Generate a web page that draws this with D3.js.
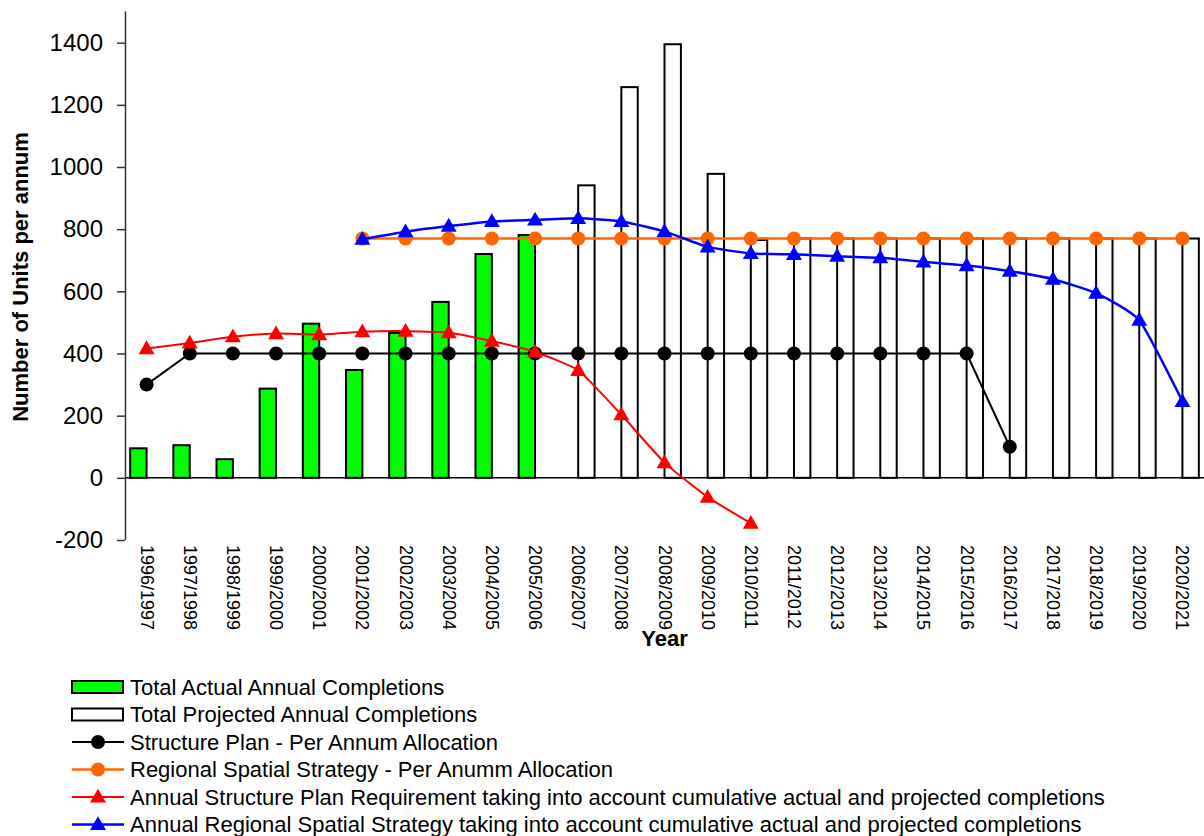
<!DOCTYPE html>
<html>
<head>
<meta charset="utf-8">
<script src="https://cdn.jsdelivr.net/npm/d3@7"></script>
<style>
  body { margin: 0; background: #fff; }
  svg { display: block; font-family: "Liberation Sans", Arial, sans-serif; }
</style>
</head>
<body>
<div id="canvas"></div>
<script>
// categories and series
let categories = [
    '1996/1997', '1997/1998', '1998/1999', '1999/2000', '2000/2001',
    '2001/2002', '2002/2003', '2003/2004', '2004/2005', '2005/2006',
    '2006/2007', '2007/2008', '2008/2009', '2009/2010', '2010/2011',
    '2011/2012', '2012/2013', '2013/2014', '2014/2015', '2015/2016',
    '2016/2017', '2017/2018', '2018/2019', '2019/2020', '2020/2021'
]
let actualCompletions = [95, 105, 60, 287, 496, 347, 466, 566, 720, 781,
    null, null, null, null, null, null, null, null, null, null, null, null, null, null, null]
let projectedCompletions = [null, null, null, null, null, null, null, null, null, null,
    941, 1257, 1395, 978, 765, 770, 770, 770, 770, 770, 770, 770, 770, 770, 770]
let structurePlan = [300, 400, 400, 400, 400, 400, 400, 400, 400, 400,
    400, 400, 400, 400, 400, 400, 400, 400, 400, 400, 100, null, null, null, null]
let rssAllocation = [null, null, null, null, null, 770, 770, 770, 770, 770,
    770, 770, 770, 770, 770, 770, 770, 770, 770, 770, 770, 770, 770, 770, 770]
let spRequirement = [416, 434, 454, 464, 461, 470, 472, 467, 440, 405,
    346, 203, 49, -62, -146, null, null, null, null, null, null, null, null, null, null]
let rssRequirement = [null, null, null, null, null, 768, 792, 810, 825, 830,
    835, 825, 793, 743, 722, 719, 713, 708, 695, 683, 665, 639, 594, 507, 246]
let yTicks = [-200, 0, 200, 400, 600, 800, 1000, 1200, 1400]

let legendLabels = [
    'Total Actual Annual Completions',
    'Total Projected Annual Completions',
    'Structure Plan - Per Annum Allocation',
    'Regional Spatial Strategy - Per Anumm Allocation',
    'Annual Structure Plan Requirement taking into account cumulative actual and projected completions',
    'Annual Regional Spatial Strategy taking into account cumulative actual and projected completions'
]

let width = 1204
let height = 836
let plotLeft = 125
let plotRight = 1204
let plotTop = 11.6
let plotBottom = 540

let svg = d3.select('#canvas').append('svg')
    .attr('width', width)
    .attr('height', height)

let x = d3.scaleBand().domain(categories).range([plotLeft, plotRight])
let y = d3.scaleLinear().domain([-200, 1500]).range([plotBottom, plotTop])
let bw = x.bandwidth()
let cx = (c) => x(c) + bw / 2
let barW = bw * 0.38

// bars
svg.append('g')
    .selectAll('rect')
    .data(categories.filter((c, i) => actualCompletions[i] != null))
    .enter()
    .append('rect')
    .attr('x', (c) => cx(c) - barW)
    .attr('width', barW)
    .attr('y', (c) => y(actualCompletions[categories.indexOf(c)]))
    .attr('height', (c) => y(0) - y(actualCompletions[categories.indexOf(c)]))
    .attr('fill', '#00ff00')
    .attr('stroke', '#000')
    .attr('stroke-width', 2)

svg.append('g')
    .selectAll('rect')
    .data(categories.filter((c, i) => projectedCompletions[i] != null))
    .enter()
    .append('rect')
    .attr('x', (c) => cx(c))
    .attr('width', barW)
    .attr('y', (c) => y(projectedCompletions[categories.indexOf(c)]))
    .attr('height', (c) => y(0) - y(projectedCompletions[categories.indexOf(c)]))
    .attr('fill', '#fff')
    .attr('stroke', '#000')
    .attr('stroke-width', 2)

// zero line
svg.append('line')
    .attr('x1', plotLeft).attr('x2', plotRight)
    .attr('y1', y(0)).attr('y2', y(0))
    .attr('stroke', '#000')
    .attr('stroke-width', 1.5)

// y axis
let yAxis = svg.append('g')
    .attr('transform', 'translate(' + plotLeft + ',0)')
    .call(d3.axisLeft(y)
        .tickValues(yTicks)
        .tickFormat((d) => String(d))
        .tickSize(8)
        .tickPadding(14)
        .tickSizeOuter(0))
yAxis.select('.domain')
    .attr('stroke', '#333')
    .attr('stroke-width', 1.5)
    .attr('d', 'M0.5,' + plotTop + 'V' + plotBottom)
yAxis.selectAll('.tick line').attr('stroke', '#333').attr('stroke-width', 1.5)
yAxis.selectAll('.tick text')
    .attr('font-size', 24)
    .attr('font-family', '"Liberation Sans", Arial, sans-serif')
    .attr('fill', '#000')

// x labels
svg.append('g')
    .selectAll('text')
    .data(categories)
    .enter()
    .append('text')
    .attr('transform', (c) => 'translate(' + cx(c) + ',545) rotate(90)')
    .attr('dominant-baseline', 'central')
    .attr('font-size', 18)
    .text((c) => c)

// axis titles
svg.append('text')
    .attr('transform', 'translate(20,277) rotate(-90)')
    .attr('text-anchor', 'middle')
    .attr('dominant-baseline', 'central')
    .attr('font-weight', 'bold')
    .attr('font-size', 22)
    .text('Number of Units per annum')

svg.append('text')
    .attr('x', (plotLeft + plotRight) / 2)
    .attr('y', 646)
    .attr('text-anchor', 'middle')
    .attr('font-weight', 'bold')
    .attr('font-size', 22)
    .text('Year')

// marker drawers
let tri = d3.symbol().type(d3.symbolTriangle).size(110)
function drawMarker(g, shape, px, py, color) {
    if (shape === 'circle') {
        g.append('circle').attr('cx', px).attr('cy', py).attr('r', 7).attr('fill', color)
    } else {
        g.append('path').attr('d', tri).attr('transform', 'translate(' + px + ',' + (py + 1) + ')').attr('fill', color)
    }
}

let seriesLines = [
    { values: structurePlan, color: '#000', shape: 'circle', curve: d3.curveLinear, w: 2 },
    { values: rssAllocation, color: '#ff6600', shape: 'circle', curve: d3.curveLinear, w: 2.5 },
    { values: spRequirement, color: '#ff0000', shape: 'triangle', curve: d3.curveCardinal.tension(0.5), w: 2 },
    { values: rssRequirement, color: '#0000ff', shape: 'triangle', curve: d3.curveCardinal.tension(0.5), w: 2.5 }
]

seriesLines.forEach(function (s) {
    let pts = categories
        .map((c, i) => [cx(c), s.values[i]])
        .filter((d) => d[1] != null)
    let line = d3.line()
        .x((d) => d[0])
        .y((d) => y(d[1]))
        .curve(s.curve)
    let g = svg.append('g')
    g.append('path')
        .attr('d', line(pts))
        .attr('fill', 'none')
        .attr('stroke', s.color)
        .attr('stroke-width', s.w)
    pts.forEach((d) => drawMarker(g, s.shape, d[0], y(d[1]), s.color))
})

// legend
let legend = svg.append('g')
let rowY = (i) => 687 + i * 27.5
legendLabels.forEach(function (label, i) {
    let ry = rowY(i)
    if (i < 2) {
        legend.append('rect')
            .attr('x', 72).attr('y', ry - 6)
            .attr('width', 51).attr('height', 12)
            .attr('fill', i === 0 ? '#00ff00' : '#fff')
            .attr('stroke', '#000')
            .attr('stroke-width', 2)
    } else {
        let s = seriesLines[i - 2]
        legend.append('line')
            .attr('x1', 72).attr('x2', 124)
            .attr('y1', ry).attr('y2', ry)
            .attr('stroke', s.color)
            .attr('stroke-width', s.w)
        drawMarker(legend, s.shape, 98, ry, s.color)
    }
    legend.append('text')
        .attr('x', 130)
        .attr('y', ry)
        .attr('dominant-baseline', 'central')
        .attr('font-size', 22)
        .text(label)
})
</script>
</body>
</html>
